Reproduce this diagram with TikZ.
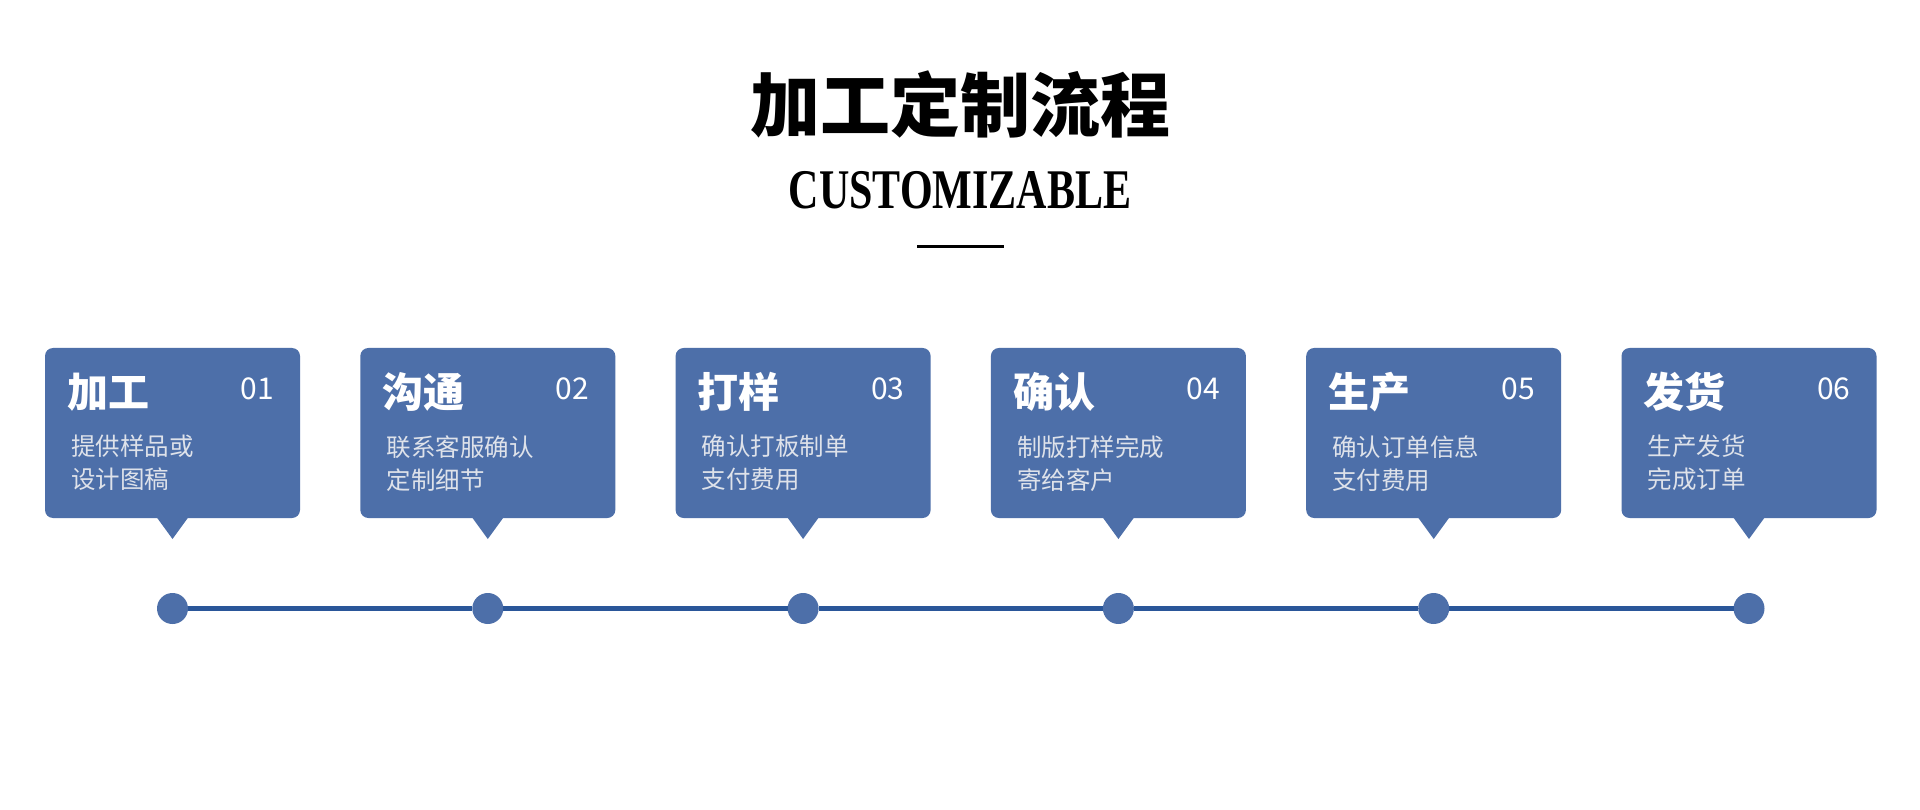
\documentclass[tikz,border=0pt]{standalone}
\usepackage{fontspec}
\newfontfamily\cjk{Noto Sans CJK SC}
\newfontfamily\enserif{Liberation Serif}[FakeStretch=0.75]
\usetikzlibrary{positioning}

\definecolor{boxblue}{RGB}{77,111,169}
\definecolor{lineblue}{RGB}{42,86,153}
\definecolor{softtext}{RGB}{222,226,234}

\begin{document}
\begin{tikzpicture}[
        x=1pt,y=-1pt,
        stepbox/.style={fill=boxblue, rounded corners=8pt, minimum width=255pt,
            minimum height=170pt, inner sep=0pt, outer sep=0pt, anchor=north west},
        head/.style={anchor=west, inner sep=0pt, white,
            font=\cjk\bfseries\fontsize{41}{48}\selectfont},
        num/.style={anchor=east, inner sep=0pt, white,
            font=\cjk\fontsize{30}{34}\selectfont},
        note/.style={anchor=north west, inner sep=0pt, softtext, align=left,
            font=\cjk\fontsize{24.5}{33}\selectfont},
        dot/.style={circle, fill=boxblue, minimum size=31pt, inner sep=0pt, outer sep=0pt},
        link/.style={lineblue, line width=4.5pt}
    ]
    \fill[white] (0,0) rectangle (1920,810);
    \useasboundingbox (0,0) rectangle (1920,810);

    % title
    \node[inner sep=0pt, font=\cjk\bfseries\fontsize{70}{80}\selectfont] (title) at (960,104) {加工定制流程};
    \node[inner sep=0pt, font=\enserif\bfseries\fontsize{56}{60}\selectfont] (sub) at (960,190) {CUSTOMIZABLE};
    \coordinate (ruleL) at (917,247);
    \coordinate (ruleR) at (1004,247);
    \draw[line width=3pt] (ruleL) -- (ruleR);

    % steps
    \node[stepbox] (s1) at (45,348) {};
    \node[stepbox, right=60.3pt of s1] (s2) {};
    \node[stepbox, right=60.3pt of s2] (s3) {};
    \node[stepbox, right=60.3pt of s3] (s4) {};
    \node[stepbox, right=60.3pt of s4] (s5) {};
    \node[stepbox, right=60.3pt of s5] (s6) {};

    \fill[boxblue] ([shift={(-16,-1)}]s1.south) -- ([shift={(16,-1)}]s1.south) -- ([yshift=-21pt]s1.south) -- cycle;
    \fill[boxblue] ([shift={(-16,-1)}]s2.south) -- ([shift={(16,-1)}]s2.south) -- ([yshift=-21pt]s2.south) -- cycle;
    \fill[boxblue] ([shift={(-16,-1)}]s3.south) -- ([shift={(16,-1)}]s3.south) -- ([yshift=-21pt]s3.south) -- cycle;
    \fill[boxblue] ([shift={(-16,-1)}]s4.south) -- ([shift={(16,-1)}]s4.south) -- ([yshift=-21pt]s4.south) -- cycle;
    \fill[boxblue] ([shift={(-16,-1)}]s5.south) -- ([shift={(16,-1)}]s5.south) -- ([yshift=-21pt]s5.south) -- cycle;
    \fill[boxblue] ([shift={(-16,-1)}]s6.south) -- ([shift={(16,-1)}]s6.south) -- ([yshift=-21pt]s6.south) -- cycle;

    \node[head] (h1) at ([shift={(22,44)}]s1.north west) {加工};
    \node[head] (h2) at ([shift={(22,44)}]s2.north west) {沟通};
    \node[head] (h3) at ([shift={(22,44)}]s3.north west) {打样};
    \node[head] (h4) at ([shift={(22,44)}]s4.north west) {确认};
    \node[head] (h5) at ([shift={(22,44)}]s5.north west) {生产};
    \node[head] (h6) at ([shift={(22,44)}]s6.north west) {发货};

    \node[num] (n1) at ([shift={(-26,41)}]s1.north east) {01};
    \node[num] (n2) at ([shift={(-26,41)}]s2.north east) {02};
    \node[num] (n3) at ([shift={(-26,41)}]s3.north east) {03};
    \node[num] (n4) at ([shift={(-26,41)}]s4.north east) {04};
    \node[num] (n5) at ([shift={(-26,41)}]s5.north east) {05};
    \node[num] (n6) at ([shift={(-26,41)}]s6.north east) {06};

    \node[note] (t1) at ([shift={(26,87)}]s1.north west) {提供样品或\\设计图稿};
    \node[note] (t2) at ([shift={(26,87)}]s2.north west) {联系客服确认\\定制细节};
    \node[note] (t3) at ([shift={(26,87)}]s3.north west) {确认打板制单\\支付费用};
    \node[note] (t4) at ([shift={(26,87)}]s4.north west) {制版打样完成\\寄给客户};
    \node[note] (t5) at ([shift={(26,87)}]s5.north west) {确认订单信息\\支付费用};
    \node[note] (t6) at ([shift={(26,87)}]s6.north west) {生产发货\\完成订单};

    % timeline
    \node[dot, below=75pt of s1] (d1) {};
    \node[dot, below=75pt of s2] (d2) {};
    \node[dot, below=75pt of s3] (d3) {};
    \node[dot, below=75pt of s4] (d4) {};
    \node[dot, below=75pt of s5] (d5) {};
    \node[dot, below=75pt of s6] (d6) {};

    \draw[link] (d1) -- (d2);
    \draw[link] (d2) -- (d3);
    \draw[link] (d3) -- (d4);
    \draw[link] (d4) -- (d5);
    \draw[link] (d5) -- (d6);
\end{tikzpicture}
\end{document}
